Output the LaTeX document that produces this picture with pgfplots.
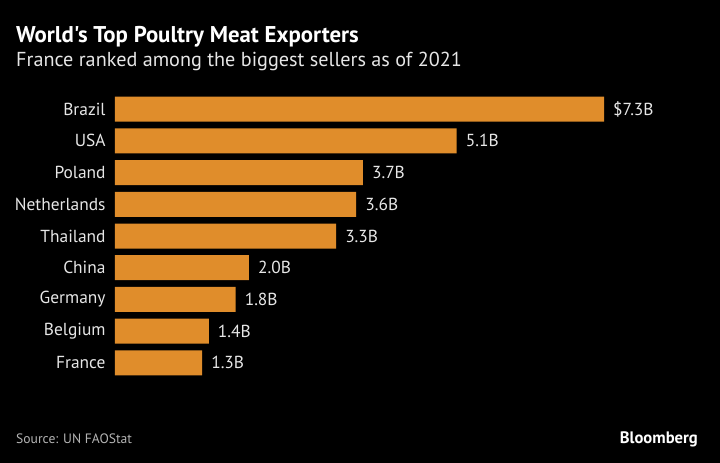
\documentclass[border=0pt]{standalone}
\usepackage{pgfplots}
\pgfplotsset{compat=1.18}
\usepackage{fontspec}
\setmainfont{PT Sans}[Ligatures=TeXOff]
\definecolor{barorange}{HTML}{E08D2B}
\definecolor{txt}{HTML}{E6E6E6}
\definecolor{srcgrey}{HTML}{B4B4B4}
\begin{document}
\begin{tikzpicture}[x=1pt,y=1pt]
\fill[black] (0,0) rectangle (720,-463);
\node[anchor=base west, inner sep=0, text=white, font=\bfseries\fontsize{22.8}{26}\selectfont] at (16,-42.5) {World's Top Poultry Meat Exporters};
\node[anchor=base west, inner sep=0, text=txt, font=\fontsize{20.2}{23}\selectfont] at (16,-66) {France ranked among the biggest sellers as of 2021};
\node[anchor=base west, inner sep=0, text=srcgrey, font=\fontsize{13.6}{16}\selectfont] at (16,-443) {Source: UN FAOStat};
\node[anchor=base east, inner sep=0, text=white, font=\bfseries\fontsize{16.6}{19}\selectfont] at (698,-443) {Bloomberg};
\begin{axis}[
  at={(115pt,-93.35pt)}, anchor=north west,
  scale only axis, width=489pt, height=285.3pt,
  xmin=0, xmax=7.3, ymin=-0.5, ymax=8.5,
  y dir=reverse,
  xbar, bar width=25pt,
  hide x axis,
  axis line style={draw=none},
  ytick={0,...,8},
  yticklabels={Brazil,USA,Poland,Netherlands,Thailand,China,Germany,Belgium,France},
  ytick style={draw=none},
  yticklabel style={text=txt, font=\fontsize{17.4}{20}\selectfont, inner sep=0pt, xshift=-5pt},
  point meta=explicit symbolic,
  nodes near coords,
  nodes near coords style={text=txt, font=\fontsize{17.4}{20}\selectfont, inner sep=0pt, anchor=west, xshift=9pt},
]
\addplot[fill=barorange, draw=none] coordinates {
  (7.3,0) [\$7.3B]
  (5.1,1) [5.1B]
  (3.7,2) [3.7B]
  (3.6,3) [3.6B]
  (3.3,4) [3.3B]
  (2.0,5) [2.0B]
  (1.8,6) [1.8B]
  (1.4,7) [1.4B]
  (1.3,8) [1.3B]
};
\end{axis}
\end{tikzpicture}
\end{document}
